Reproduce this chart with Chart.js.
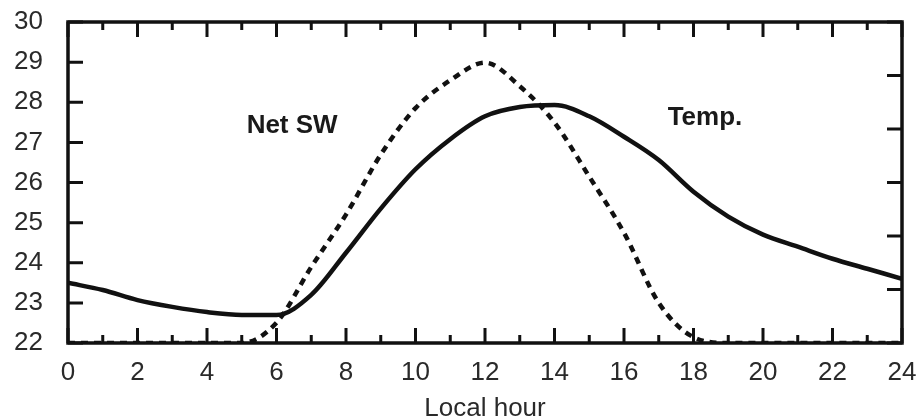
<!DOCTYPE html>
<html>
<head>
<meta charset="utf-8">
<title>Diurnal cycle</title>
<script src="https://cdn.jsdelivr.net/npm/chart.js@4"></script>
<style>
  html, body { margin: 0; background: #fff; }
  canvas { display: block; }
</style>
</head>
<body>
<canvas id="diurnalChart" width="918" height="420"></canvas>
<script>
// Local hour of day
const hours = [0, 1, 2, 3, 4, 5, 6, 7, 8, 9, 10, 11, 12, 13, 14, 15, 16, 17, 18, 19, 20, 21, 22, 23, 24];

// Air temperature (deg C), left axis
const temperature = [23.5, 23.32, 23.07, 22.9, 22.77, 22.7, 22.7, 23.2, 24.25, 25.35, 26.33, 27.08, 27.65,
                     27.88, 27.93, 27.65, 27.14, 26.56, 25.77, 25.15, 24.7, 24.4, 24.1, 23.85, 23.6];

// Net shortwave flux (W m-2), right axis (unlabelled)
const netShortwave = [0, 0, 0, 0, 0, 0, 38, 142, 240, 352, 439, 491, 524,
                      480, 412, 311, 206, 75, 11, 0, 0, 0, 0, 0, 0];

const tempRange = [22, 30];
const swRange = [0, 600];

const FONT = '"Liberation Sans", Arial, Helvetica, sans-serif';
const INK = '#111';

// curve names written next to each line
const curveNotes = [
    { text: 'Net SW', hour: 6.45, value: 27.42 },
    { text: 'Temp.', hour: 18.33, value: 27.6 }
];

// box round the plot, inward ticks on all four sides, curve names
const frameAndTicks = {
    id: 'frameAndTicks',
    afterDatasetsDraw(chart) {
        const { ctx, chartArea: a, scales } = chart;
        ctx.save();
        ctx.strokeStyle = INK;
        ctx.lineWidth = 3;
        ctx.beginPath();
        scales.x.ticks.forEach(t => {
            const px = scales.x.getPixelForValue(t.value);
            const len = t.value % 2 === 0 ? 15 : 8;
            ctx.moveTo(px, a.bottom);
            ctx.lineTo(px, a.bottom - len);
            ctx.moveTo(px, a.top);
            ctx.lineTo(px, a.top + len);
        });
        scales.y.ticks.forEach(t => {
            const py = scales.y.getPixelForValue(t.value);
            ctx.moveTo(a.left, py);
            ctx.lineTo(a.left + 15, py);
        });
        scales.y1.ticks.forEach(t => {
            const py = scales.y1.getPixelForValue(t.value);
            ctx.moveTo(a.right, py);
            ctx.lineTo(a.right - 15, py);
        });
        ctx.stroke();

        ctx.lineWidth = 3.5;
        ctx.strokeRect(a.left, a.top, a.right - a.left, a.bottom - a.top);

        ctx.font = 'bold 26px ' + FONT;
        ctx.fillStyle = '#1a1a1a';
        ctx.textAlign = 'center';
        ctx.textBaseline = 'middle';
        curveNotes.forEach(n => {
            ctx.fillText(n.text, scales.x.getPixelForValue(n.hour), scales.y.getPixelForValue(n.value));
        });
        ctx.restore();
    }
};

const ctx = document.getElementById('diurnalChart').getContext('2d');
const diurnalChart = new Chart(ctx, {
    type: 'line',
    data: {
        labels: hours,
        datasets: [
            {
                label: 'Temp.',
                data: temperature,
                yAxisID: 'y',
                borderColor: INK,
                borderWidth: 4.5,
                pointRadius: 0,
                cubicInterpolationMode: 'monotone',
                fill: false
            },
            {
                label: 'Net SW',
                data: netShortwave,
                yAxisID: 'y1',
                borderColor: INK,
                borderWidth: 4.5,
                borderDash: [7, 6],
                pointRadius: 0,
                cubicInterpolationMode: 'monotone',
                fill: false
            }
        ]
    },
    options: {
        responsive: false,
        animation: false,
        layout: { padding: { top: 22, right: 16, left: 0, bottom: 0 } },
        plugins: {
            legend: { display: false },
            tooltip: { enabled: false }
        },
        scales: {
            x: {
                type: 'linear',
                min: 0,
                max: 24,
                grid: { display: false, drawTicks: false },
                border: { display: false },
                ticks: {
                    stepSize: 1,
                    autoSkip: false,
                    maxRotation: 0,
                    padding: 14,
                    color: '#2a2a2a',
                    font: { family: FONT, size: 26 },
                    callback: v => (v % 2 === 0 ? v : '')
                },
                title: {
                    display: true,
                    text: 'Local hour',
                    color: '#2a2a2a',
                    font: { family: FONT, size: 26, lineHeight: 1 },
                    padding: { top: 0, bottom: -2 }
                },
                // fixed band under the plot; labels may overhang the edges
                afterFit: scale => {
                    scale.height = 77;
                    scale.paddingLeft = 0;
                    scale.paddingRight = 0;
                }
            },
            y: {
                position: 'left',
                min: tempRange[0],
                max: tempRange[1],
                grid: { display: false, drawTicks: false },
                border: { display: false },
                ticks: {
                    stepSize: 1,
                    padding: 25,
                    color: '#2a2a2a',
                    font: { family: FONT, size: 26 }
                },
                afterFit: scale => {
                    scale.width = 68;
                    scale.paddingTop = 0;
                    scale.paddingBottom = 0;
                }
            },
            y1: {
                position: 'right',
                min: swRange[0],
                max: swRange[1],
                grid: { display: false, drawTicks: false },
                border: { display: false },
                ticks: { stepSize: 100, display: false },
                afterFit: scale => {
                    scale.width = 0;
                    scale.paddingTop = 0;
                    scale.paddingBottom = 0;
                }
            }
        }
    },
    plugins: [frameAndTicks]
});
</script>
</body>
</html>
